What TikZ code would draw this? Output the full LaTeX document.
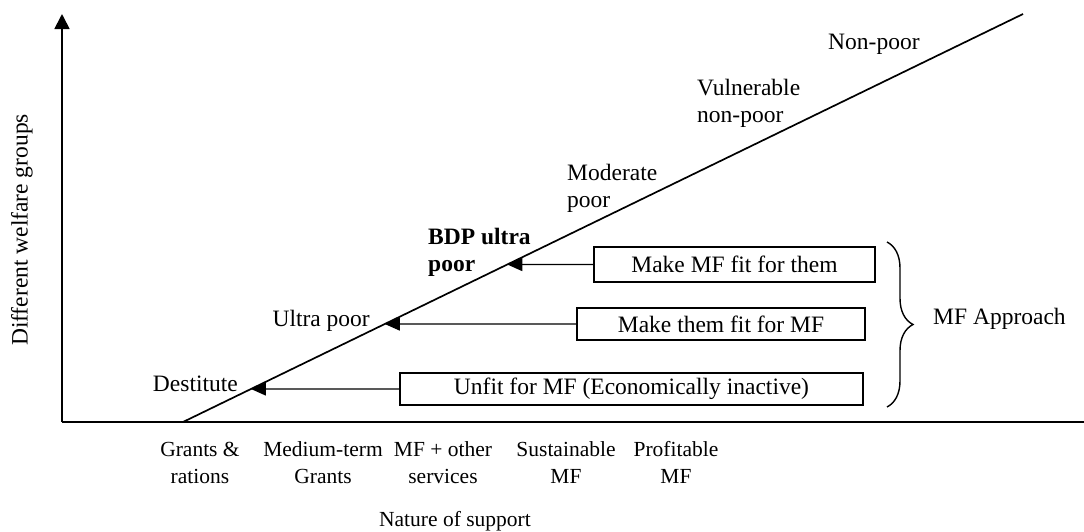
\documentclass[tikz,border=0pt]{standalone}
\usepackage{fontspec}
\setmainfont{Liberation Serif}
\usetikzlibrary{arrows.meta,decorations.pathreplacing,calc}
\begin{document}
\begin{tikzpicture}[x=1pt,y=-1pt,
  lbl/.style={inner sep=0pt, font=\fontsize{23.5}{27}\selectfont},
  sup/.style={inner sep=0pt, font=\fontsize{21.5}{27}\selectfont},
  mfbox/.style={draw, line width=1.5pt, inner sep=0pt, font=\fontsize{23.5}{27}\selectfont},
  axisline/.style={line width=1.7pt},
  ptr/.style={line width=1.4pt, -{Triangle[length=15pt,width=13pt]}}]
\useasboundingbox (0,0) rectangle (1084,531);
% axes
\coordinate (O) at (62,422);
\coordinate (ytop) at (62,14);
\coordinate (xend) at (1084,422);
\draw[axisline,-{Triangle[length=15pt,width=15pt]}] (O) -- (ytop);
\draw[axisline] (O) -- (xend);
% diagonal
\coordinate (d0) at (183,422);
\coordinate (d1) at (1023,14);
\draw[axisline] (d0) -- (d1);
% boxes
\node[mfbox, minimum width=281pt, minimum height=35pt] (B1) at (734.5,264.5) {Make MF fit for them};
\node[mfbox, minimum width=288pt, minimum height=32pt] (B2) at (721,324) {Make them fit for MF};
\node[mfbox, minimum width=463pt, minimum height=32pt] (B3) at (631.5,389) {Unfit for MF (Economically inactive)};
% arrows
\draw[ptr] (B1.west) -- (intersection of d0--d1 and B1.west--B1.east);
\draw[ptr] (B2.west) -- (intersection of d0--d1 and B2.west--B2.east);
\draw[ptr] (B3.west) -- (intersection of d0--d1 and B3.west--B3.east);
% brace
\coordinate (bt) at (887,242);
\coordinate (bb) at (887,407);
\draw[line width=1.4pt, decorate, decoration={brace, amplitude=26pt}] (bt) -- (bb);
\node[lbl, anchor=base west] (mfa) at (933,324) {MF Approach};
% welfare labels
\node[lbl, anchor=base east] (dest) at (238,391) {Destitute};
\node[lbl, anchor=base east] (ultra) at (370,326) {Ultra poor};
\node[lbl, anchor=base west] (bdp1) at (428,244) {\bfseries BDP ultra};
\node[lbl, anchor=base west] (bdp2) at (428,271) {\bfseries poor};
\node[lbl, anchor=base west] (mod1) at (567,180) {Moderate};
\node[lbl, anchor=base west] (mod2) at (567,207) {poor};
\node[lbl, anchor=base west] (vul1) at (697,95) {Vulnerable};
\node[lbl, anchor=base west] (vul2) at (697,122) {non-poor};
\node[lbl, anchor=base west] (nonpoor) at (828,49) {Non-poor};
% support labels
\node[sup, anchor=base] (s1a) at (200,456) {Grants \&};
\node[sup, anchor=base] (s1b) at (200,483) {rations};
\node[sup, anchor=base] (s2a) at (323,456) {Medium-term};
\node[sup, anchor=base] (s2b) at (323,483) {Grants};
\node[sup, anchor=base] (s3a) at (443,456) {MF + other};
\node[sup, anchor=base] (s3b) at (443,483) {services};
\node[sup, anchor=base] (s4a) at (566,456) {Sustainable};
\node[sup, anchor=base] (s4b) at (566,483) {MF};
\node[sup, anchor=base] (s5a) at (676,456) {Profitable};
\node[sup, anchor=base] (s5b) at (676,483) {MF};
\node[sup, anchor=base] (xlab) at (455,526) {Nature of support};
% y label
\node[lbl, rotate=90] (ylab) at (22,230) {Different welfare groups};
\end{tikzpicture}
\end{document}
